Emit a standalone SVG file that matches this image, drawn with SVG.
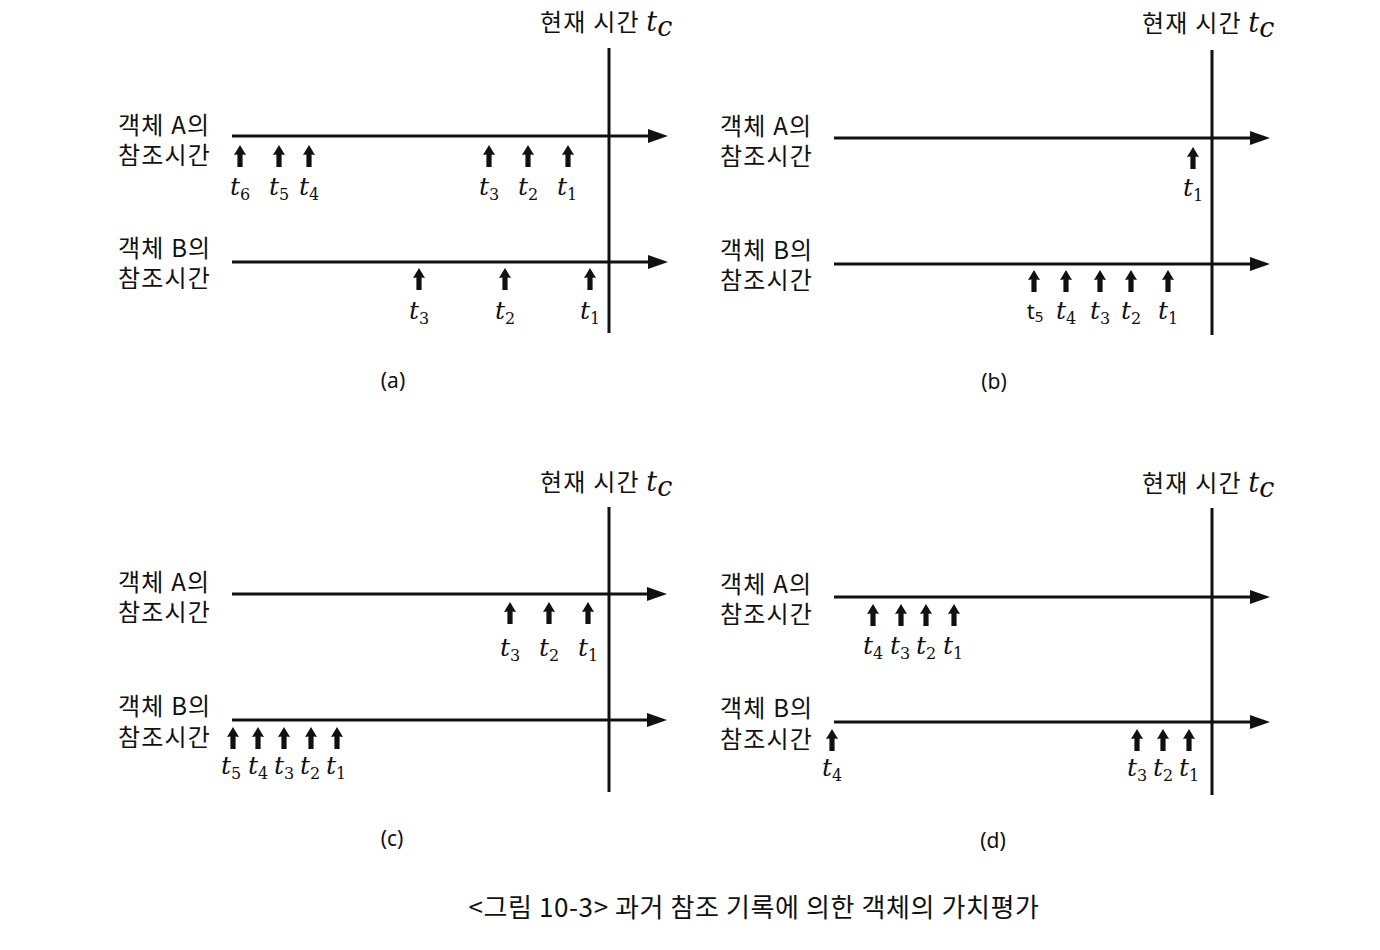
<svg xmlns="http://www.w3.org/2000/svg" xmlns:xlink="http://www.w3.org/1999/xlink" width="1380" height="950" viewBox="0 0 1380 950">
<style>
.kr{font-family:"Noto Sans CJK KR","Noto Sans",sans-serif;font-size:24px;fill:#111;letter-spacing:1.2px;}
.cap{font-family:"Noto Sans","Noto Sans CJK KR",sans-serif;font-size:21px;fill:#111;text-anchor:middle;}
.title{font-family:"Noto Sans CJK KR","Noto Sans",sans-serif;font-size:26px;fill:#111;text-anchor:middle;letter-spacing:0.6px;}
.t{font-family:"DejaVu Serif",serif;font-style:italic;font-size:25px;fill:#111;text-anchor:middle;}
.sub{font-style:normal;font-size:16px;}
.tc{font-family:"DejaVu Serif",serif;font-style:italic;font-size:27px;fill:#111;letter-spacing:0;}
.tu{font-family:"Noto Sans",sans-serif;font-size:22px;fill:#111;text-anchor:middle;}
.tl{stroke:#111;stroke-width:3;fill:none;marker-end:url(#ah);}
.vl{stroke:#111;stroke-width:3;fill:none;}
</style>
<defs>
<marker id="ah" markerUnits="userSpaceOnUse" viewBox="0 0 20 14" refX="4" refY="7" markerWidth="20" markerHeight="14" orient="auto">
<path d="M0,0 L20,7 L0,14 Z" fill="#111"/>
</marker>
<path id="up" d="M0,0 L6,10 L2.6,9.5 L2.6,22 L-2.6,22 L-2.6,9.5 L-6,10 Z" fill="#111"/>
</defs>
<rect width="1380" height="950" fill="#fff"/>

<!-- Panel a -->
<g id="panel-a">
<text class="kr" x="540" y="31">현재 시간 <tspan class="tc">t</tspan><tspan class="tc" font-size="19" dy="5">c</tspan></text>
<text class="kr" x="118" y="134">객체 A의<tspan x="118" dy="30">참조시간</tspan></text>
<text class="kr" x="118" y="257">객체 B의<tspan x="118" dy="30">참조시간</tspan></text>
<text class="cap" x="393" y="388">(a)</text>
</g>
<g id="connectors-a">
<line class="vl" x1="609" y1="48" x2="609" y2="333"/>
<line class="tl" x1="232" y1="136" x2="652" y2="136"/>
<line class="tl" x1="232" y1="262" x2="652" y2="262"/>
<use xlink:href="#up" x="240" y="145"/><use xlink:href="#up" x="279" y="145"/><use xlink:href="#up" x="309" y="145"/>
<use xlink:href="#up" x="489" y="145"/><use xlink:href="#up" x="528" y="145"/><use xlink:href="#up" x="568" y="145"/>
<use xlink:href="#up" x="419" y="268"/><use xlink:href="#up" x="505" y="268"/><use xlink:href="#up" x="590" y="268"/>
</g>
<g id="labels-a">
<text class="t" x="240" y="195">t<tspan class="sub" dy="5">6</tspan></text>
<text class="t" x="279" y="195">t<tspan class="sub" dy="5">5</tspan></text>
<text class="t" x="309" y="195">t<tspan class="sub" dy="5">4</tspan></text>
<text class="t" x="489" y="195">t<tspan class="sub" dy="5">3</tspan></text>
<text class="t" x="528" y="195">t<tspan class="sub" dy="5">2</tspan></text>
<text class="t" x="567" y="195">t<tspan class="sub" dy="5">1</tspan></text>
<text class="t" x="419" y="319">t<tspan class="sub" dy="5">3</tspan></text>
<text class="t" x="505" y="319">t<tspan class="sub" dy="5">2</tspan></text>
<text class="t" x="590" y="319">t<tspan class="sub" dy="5">1</tspan></text>
</g>

<!-- Panel b -->
<g id="panel-b">
<text class="kr" x="1142" y="32">현재 시간 <tspan class="tc">t</tspan><tspan class="tc" font-size="19" dy="5">c</tspan></text>
<text class="kr" x="720" y="135">객체 A의<tspan x="720" dy="30">참조시간</tspan></text>
<text class="kr" x="720" y="259">객체 B의<tspan x="720" dy="30">참조시간</tspan></text>
<text class="cap" x="994" y="389">(b)</text>
</g>
<g id="connectors-b">
<line class="vl" x1="1212" y1="50" x2="1212" y2="335"/>
<line class="tl" x1="834" y1="138" x2="1254" y2="138"/>
<line class="tl" x1="834" y1="264" x2="1254" y2="264"/>
<use xlink:href="#up" x="1193" y="147"/>
<use xlink:href="#up" x="1034" y="270"/><use xlink:href="#up" x="1066" y="270"/><use xlink:href="#up" x="1100" y="270"/>
<use xlink:href="#up" x="1131" y="270"/><use xlink:href="#up" x="1168" y="270"/>
</g>
<g id="labels-b">
<text class="t" x="1193" y="196">t<tspan class="sub" dy="5">1</tspan></text>
<text class="tu" x="1035" y="319">t<tspan font-size="15" dy="3">5</tspan></text>
<text class="t" x="1066" y="319">t<tspan class="sub" dy="5">4</tspan></text>
<text class="t" x="1100" y="319">t<tspan class="sub" dy="5">3</tspan></text>
<text class="t" x="1131" y="319">t<tspan class="sub" dy="5">2</tspan></text>
<text class="t" x="1168" y="319">t<tspan class="sub" dy="5">1</tspan></text>
</g>

<!-- Panel c -->
<g id="panel-c">
<text class="kr" x="540" y="491">현재 시간 <tspan class="tc">t</tspan><tspan class="tc" font-size="19" dy="5">c</tspan></text>
<text class="kr" x="118" y="591">객체 A의<tspan x="118" dy="30">참조시간</tspan></text>
<text class="kr" x="118" y="715">객체 B의<tspan x="118" dy="31">참조시간</tspan></text>
<text class="cap" x="392" y="846">(c)</text>
</g>
<g id="connectors-c">
<line class="vl" x1="609" y1="507" x2="609" y2="792"/>
<line class="tl" x1="232" y1="594" x2="651" y2="594"/>
<line class="tl" x1="232" y1="720" x2="651" y2="720"/>
<use xlink:href="#up" x="510" y="602"/><use xlink:href="#up" x="549" y="602"/><use xlink:href="#up" x="588" y="602"/>
<use xlink:href="#up" x="233" y="727"/><use xlink:href="#up" x="258" y="727"/><use xlink:href="#up" x="284" y="727"/>
<use xlink:href="#up" x="311" y="727"/><use xlink:href="#up" x="337" y="727"/>
</g>
<g id="labels-c">
<text class="t" x="510" y="656">t<tspan class="sub" dy="5">3</tspan></text>
<text class="t" x="549" y="656">t<tspan class="sub" dy="5">2</tspan></text>
<text class="t" x="588" y="656">t<tspan class="sub" dy="5">1</tspan></text>
<text class="t" x="231" y="774">t<tspan class="sub" dy="5">5</tspan></text>
<text class="t" x="258" y="774">t<tspan class="sub" dy="5">4</tspan></text>
<text class="t" x="284" y="774">t<tspan class="sub" dy="5">3</tspan></text>
<text class="t" x="310" y="774">t<tspan class="sub" dy="5">2</tspan></text>
<text class="t" x="336" y="774">t<tspan class="sub" dy="5">1</tspan></text>
</g>

<!-- Panel d -->
<g id="panel-d">
<text class="kr" x="1142" y="492">현재 시간 <tspan class="tc">t</tspan><tspan class="tc" font-size="19" dy="5">c</tspan></text>
<text class="kr" x="720" y="593">객체 A의<tspan x="720" dy="30">참조시간</tspan></text>
<text class="kr" x="720" y="717">객체 B의<tspan x="720" dy="31">참조시간</tspan></text>
<text class="cap" x="993" y="848">(d)</text>
</g>
<g id="connectors-d">
<line class="vl" x1="1212" y1="508" x2="1212" y2="795"/>
<line class="tl" x1="834" y1="597" x2="1254" y2="597"/>
<line class="tl" x1="834" y1="722" x2="1254" y2="722"/>
<use xlink:href="#up" x="873" y="604"/><use xlink:href="#up" x="901" y="604"/><use xlink:href="#up" x="926" y="604"/><use xlink:href="#up" x="954" y="604"/>
<use xlink:href="#up" x="832" y="729"/>
<use xlink:href="#up" x="1137" y="729"/><use xlink:href="#up" x="1163" y="729"/><use xlink:href="#up" x="1189" y="729"/>
</g>
<g id="labels-d">
<text class="t" x="873" y="654">t<tspan class="sub" dy="5">4</tspan></text>
<text class="t" x="900" y="654">t<tspan class="sub" dy="5">3</tspan></text>
<text class="t" x="926" y="654">t<tspan class="sub" dy="5">2</tspan></text>
<text class="t" x="953" y="654">t<tspan class="sub" dy="5">1</tspan></text>
<text class="t" x="832" y="776">t<tspan class="sub" dy="5">4</tspan></text>
<text class="t" x="1137" y="776">t<tspan class="sub" dy="5">3</tspan></text>
<text class="t" x="1163" y="776">t<tspan class="sub" dy="5">2</tspan></text>
<text class="t" x="1189" y="776">t<tspan class="sub" dy="5">1</tspan></text>
</g>

<g id="title">
<text class="title" x="754" y="917">&lt;그림 10-3&gt; 과거 참조 기록에 의한 객체의 가치평가</text>
</g>
</svg>
